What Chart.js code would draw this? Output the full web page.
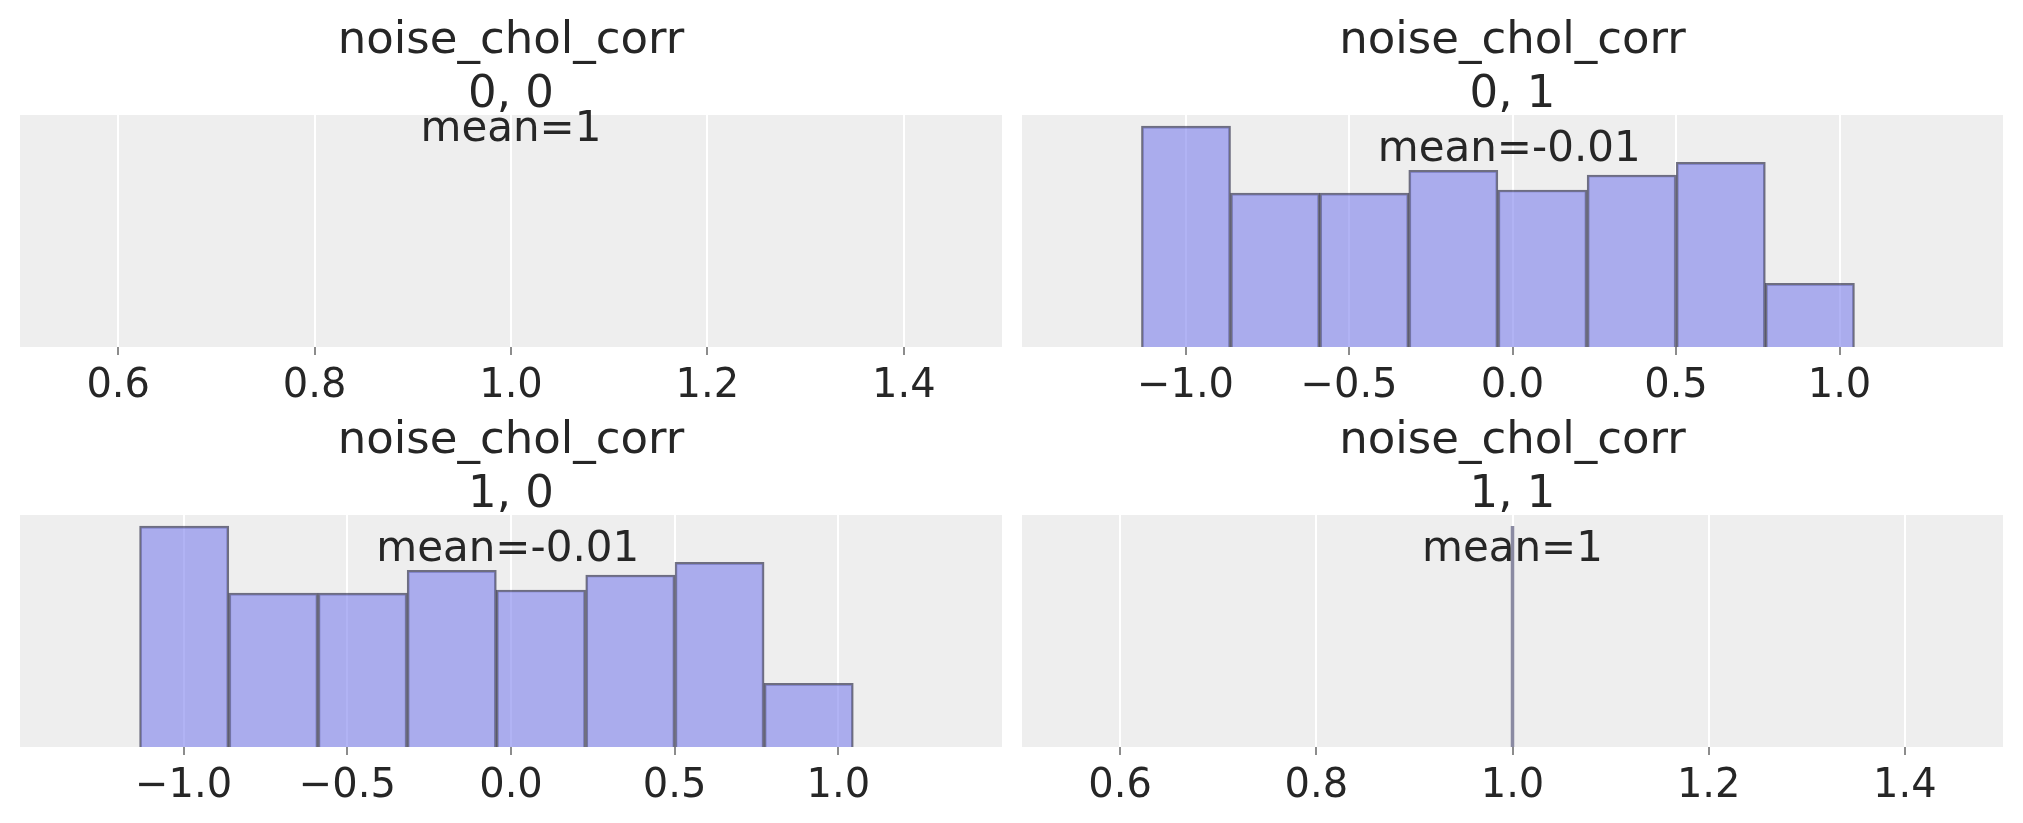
<!DOCTYPE html>
<html>
<head>
<meta charset="utf-8">
<script src="https://cdn.jsdelivr.net/npm/chart.js@4.4.0/dist/chart.umd.min.js"></script>
<style>
  body { margin: 0; background: #fff; }
  #wrap { position: relative; width: 2023px; height: 823px; }
  canvas { position: absolute; }
</style>
</head>
<body>
<div id="wrap">
  <canvas id="c00" width="1011" height="407" style="left:0;top:0"></canvas>
  <canvas id="c01" width="1012" height="407" style="left:1011px;top:0"></canvas>
  <canvas id="c10" width="1011" height="407" style="left:0;top:400px"></canvas>
  <canvas id="c11" width="1012" height="407" style="left:1011px;top:400px"></canvas>
</div>
<script>
// data
const varName = "noise_chol_corr";
const panelLabels = ["0, 0", "0, 1", "1, 0", "1, 1"];
const meanLabels = ["mean=1", "mean=-0.01", "mean=-0.01", "mean=1"];
const meanValues = [1, -0.01, -0.01, 1];
const binEdges = [-1.135, -0.862, -0.590, -0.317, -0.045, 0.228, 0.501, 0.773, 1.046];
const densityOffDiag = [0.632, 0.440, 0.440, 0.505, 0.449, 0.492, 0.528, 0.182];
const diagPoint = [1.0];
const diagHeight = [1.0];
const ticksDiag = [0.6, 0.8, 1.0, 1.2, 1.4];
const ticksOffDiag = [-1.0, -0.5, 0.0, 0.5, 1.0];
const rangeDiag = [0.5, 1.5];
const rangeOffDiag = [-1.5, 1.5];

const FONT = '"DejaVu Sans", sans-serif';
const TEXT = '#262626';

const panelDeco = {
  id: 'panelDeco',
  beforeDraw(chart) {
    const { ctx, chartArea: a } = chart;
    ctx.save();
    ctx.fillStyle = '#eeeeee';
    ctx.fillRect(a.left, a.top, a.width, a.height);
    ctx.restore();
  },
  afterDraw(chart, args, opts) {
    const { ctx, chartArea: a, scales } = chart;
    const cx = (a.left + a.right) / 2;
    ctx.save();
    ctx.fillStyle = TEXT;
    ctx.textAlign = 'center';
    ctx.textBaseline = 'alphabetic';
    ctx.font = '45px ' + FONT;
    ctx.fillText(varName, cx, a.top - 62);
    ctx.fillText(opts.label, cx, a.top - 8);
    ctx.font = '42px ' + FONT;
    ctx.fillText(opts.mean, scales.x.getPixelForValue(opts.meanX), scales.y.getPixelForValue(opts.meanY));
    ctx.restore();
  }
};

function xScale(range, ticks) {
  return {
    type: 'linear',
    min: range[0],
    max: range[1],
    offset: false,
    afterBuildTicks: s => { s.ticks = ticks.map(v => ({ value: v })); },
    afterFit: s => { s.height = 60; },
    grid: { color: '#ffffff', lineWidth: 2, offset: false, drawTicks: true,
            tickLength: 8, tickColor: '#8c8c8c', tickWidth: 2 },
    border: { display: false },
    ticks: {
      font: { family: FONT, size: 40 }, color: TEXT, padding: 8,
      maxRotation: 0, autoSkip: false,
      callback: v => Number(v).toFixed(1).replace('-', '\u2212')
    }
  };
}

function makePanel(id, idx, datasets, range, ticks, yMax, meanFrac, padL, padR) {
  new Chart(document.getElementById(id), {
    type: 'bar',
    data: { datasets: datasets },
    options: {
      responsive: false,
      animation: false,
      layout: { padding: { top: 115, left: padL, right: padR, bottom: 0 } },
      scales: {
        x: xScale(range, ticks),
        y: { display: false, min: 0, max: yMax }
      },
      plugins: {
        legend: { display: false },
        tooltip: { enabled: false },
        title: { display: false },
        panelDeco: { label: panelLabels[idx], mean: meanLabels[idx], meanX: meanValues[idx], meanY: yMax * meanFrac }
      }
    },
    plugins: [panelDeco]
  });
}

function histDataset() {
  const pts = densityOffDiag.map((h, i) => ({ x: (binEdges[i] + binEdges[i + 1]) / 2, y: h }));
  return {
    type: 'bar',
    data: pts,
    backgroundColor: 'rgba(125,128,236,0.6)',
    borderColor: 'rgba(25,25,55,0.6)',
    borderWidth: 2,
    barPercentage: 1,
    categoryPercentage: 1
  };
}

function diagLine() {
  return {
    type: 'line',
    data: [{ x: diagPoint[0], y: 0 }, { x: diagPoint[0], y: diagHeight[0] }],
    borderColor: 'rgb(138,138,162)',
    borderWidth: 3.5,
    pointRadius: 0
  };
}

const histMax = Math.max(...densityOffDiag) * 1.05;

makePanel('c00', 0, [], rangeDiag, ticksDiag, 1.05, 0.888, 20, 9);
makePanel('c01', 1, [histDataset()], rangeOffDiag, ticksOffDiag, histMax, 0.8, 11, 20);
makePanel('c10', 2, [histDataset()], rangeOffDiag, ticksOffDiag, histMax, 0.8, 20, 9);
makePanel('c11', 3, [diagLine()], rangeDiag, ticksDiag, diagHeight[0] * 1.05, 0.8, 11, 20);
</script>
</body>
</html>
